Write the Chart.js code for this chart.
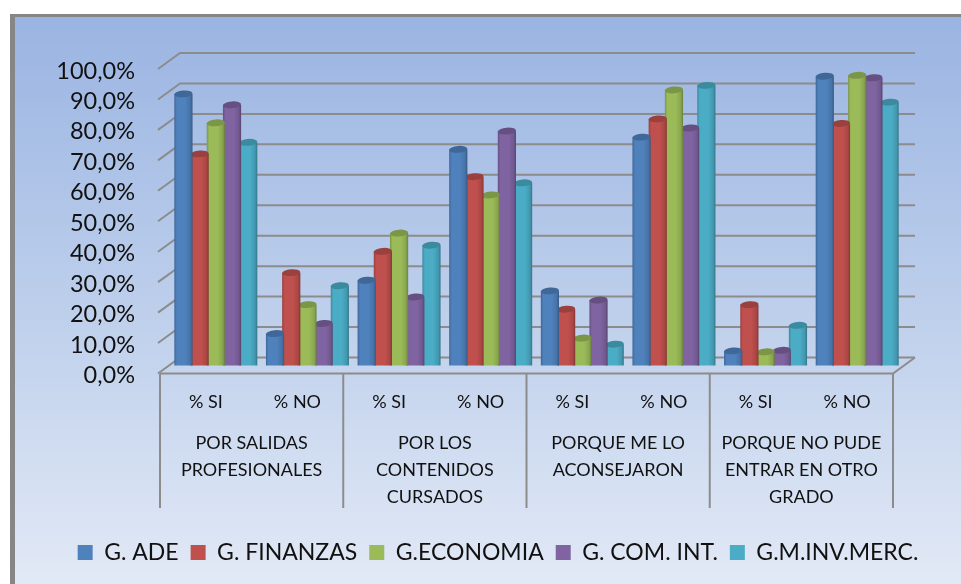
<!DOCTYPE html>
<html><head><meta charset="utf-8">
<style>html,body{margin:0;padding:0;background:#fff}#w{width:961px;height:584px;position:relative}</style>
<script src="https://cdn.jsdelivr.net/npm/chart.js@4/dist/chart.umd.min.js"></script>
</head><body><div id="w"><canvas id="c" width="961" height="584"></canvas></div>
<script>
const subCategories = ["% SI","% NO","% SI","% NO","% SI","% NO","% SI","% NO"];
const groupLabels = [["POR SALIDAS","PROFESIONALES"],["POR LOS","CONTENIDOS","CURSADOS"],["PORQUE ME LO","ACONSEJARON"],["PORQUE NO PUDE","ENTRAR EN OTRO","GRADO"]];
const seriesNames = ["G. ADE","G. FINANZAS","G.ECONOMIA","G. COM. INT.","G.M.INV.MERC."];
const seriesColors = ["#4F81BD","#C0504D","#9BBB59","#8064A2","#4BACC6"];
const gAde = [89.2,10.5,28,71,24.5,75,4.8,95];
const gFinanzas = [69.5,30.5,37.5,62,18.5,81,20,79.5];
const gEconomia = [79.7,20,43.5,56,9,90.5,4.5,95.3];
const gComInt = [85.6,13.8,22.5,77,21.5,78,5,94.5];
const gMInvMerc = [73.3,26.2,39.5,60,7,92,13.2,86.5];
const seriesValues = [gAde,gFinanzas,gEconomia,gComInt,gMInvMerc];

const FONT = "Lato";
const GRID = "#8c8c8c";

function shade(hex,f){
  const n=parseInt(hex.slice(1),16);let r=n>>16,g=(n>>8)&255,b=n&255;
  const m=v=>Math.round(f<1?v*f:v+(255-v)*(f-1));
  return `rgb(${m(r)},${m(g)},${m(b)})`;
}
// Cylinder look for bars: geometry comes from the library's bar element
Chart.BarElement.prototype.draw = function(ctx){
  const {x,y,base,width}=this, col=this.options.backgroundColor;
  const rx=width/2+1, ry=3.4;
  const g=ctx.createLinearGradient(x-rx,0,x+rx,0);
  g.addColorStop(0,shade(col,.8));
  g.addColorStop(.14,shade(col,1));
  g.addColorStop(.6,shade(col,1));
  g.addColorStop(.88,shade(col,.88));
  g.addColorStop(1,shade(col,.68));
  ctx.save();
  ctx.beginPath();
  ctx.moveTo(x-rx,y);
  ctx.lineTo(x-rx,base);
  ctx.ellipse(x,base,rx,ry,0,Math.PI,0,true);
  ctx.lineTo(x+rx,y);
  ctx.closePath();
  ctx.fillStyle=g;ctx.fill();
  ctx.beginPath();
  ctx.ellipse(x,y,rx,ry,-0.08,0,Math.PI*2);
  ctx.fillStyle=shade(col,.8);ctx.fill();
  ctx.restore();
};

const scenery={
  id:"scenery",
  beforeDraw(chart){
    const c=chart.ctx,W=chart.width,H=chart.height;
    c.save();
    c.fillStyle="#fff";c.fillRect(0,0,W,H);
    const g=c.createLinearGradient(0,15,0,H);
    g.addColorStop(0,"#9AB4E2");g.addColorStop(.5,"#BCCEEB");g.addColorStop(1,"#E2E9F6");
    c.fillStyle=g;c.fillRect(13,15,W-13,H-15);
    c.fillStyle="#868686";
    c.fillRect(10,14,W-10,3);
    c.fillRect(10,14,5,H-14);
    c.restore();
  },
  beforeDatasetsDraw(chart){
    const c=chart.ctx,a=chart.chartArea,y=chart.scales.y,x2=chart.scales.x2;
    const fx=a.left-10,bxL=a.left+10,bxR=a.right+12,dy=8;
    c.save();
    c.strokeStyle=GRID;c.lineWidth=2;
    y.ticks.forEach(t=>{
      const p=y.getPixelForValue(t.value);
      c.beginPath();
      c.moveTo(fx-2,p+dy);c.lineTo(bxL,p-dy);c.lineTo(bxR,p-dy);
      c.stroke();
    });
    // floor outline
    const p0=y.getPixelForValue(0);
    c.beginPath();
    c.moveTo(fx,p0+dy);c.lineTo(a.right-10,p0+dy);c.lineTo(bxR,p0-dy);
    c.stroke();
    // group separators
    const n=x2.ticks.length;
    for(let i=0;i<=n;i++){
      const px=x2.left+i*x2.width/n-10;
      c.beginPath();c.moveTo(px,p0+dy);c.lineTo(px,508);c.stroke();
    }
    c.restore();
  }
};

new Chart(document.getElementById("c"),{
  type:"bar",
  data:{labels:subCategories,datasets:seriesNames.map((n,i)=>({
    label:n,data:seriesValues[i],backgroundColor:seriesColors[i],
    categoryPercentage:0.884,barPercentage:1
  }))},
  plugins:[scenery],
  options:{
    responsive:false,animation:false,
    layout:{autoPadding:false,padding:{left:35,right:0,top:61,bottom:10}},
    plugins:{
      tooltip:{enabled:false},
      legend:{position:"bottom",onClick:null,labels:{
        boxWidth:15,boxHeight:15,padding:12,color:"#111",
        font:{family:FONT,size:23}
      }}
    },
    scales:{
      y:{min:0,max:100,
        afterFit(s){s.width=135;},
        grid:{display:false},border:{display:false},
        ticks:{stepSize:10,padding:27,labelOffset:10,autoSkip:false,color:"#111",
          font:{family:FONT,size:23.5},
          callback:v=>v.toFixed(1).replace(".",",")+"%"}
      },
      rightGutter:{position:"right",min:0,max:100,
        afterFit(s){s.width=58;},
        grid:{display:false},border:{display:false},ticks:{display:false}
      },
      x:{position:"bottom",weight:0,
        afterFit(s){s.height=50;},
        grid:{display:false,drawTicks:false},border:{display:false},
        ticks:{padding:26,labelOffset:-10,autoSkip:false,maxRotation:0,color:"#111",
          font:{family:FONT,size:18}}
      },
      x2:{type:"category",axis:"x",position:"bottom",weight:1,labels:groupLabels,
        afterFit(s){s.height=113.5;},
        grid:{display:false,drawTicks:false},border:{display:false},
        ticks:{padding:14,labelOffset:-10,autoSkip:false,maxRotation:0,color:"#111",
          font:{family:FONT,size:18,lineHeight:1.5}}
      }
    }
  }
});
</script></body></html>
